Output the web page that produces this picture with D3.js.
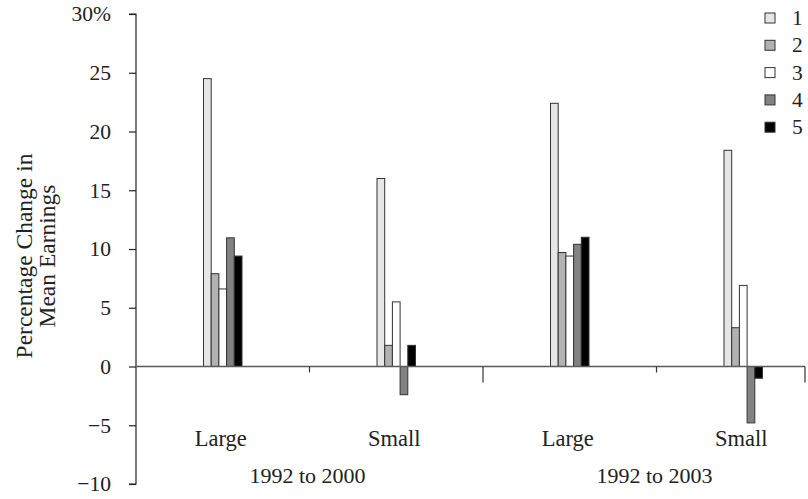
<!DOCTYPE html>
<html><head><meta charset="utf-8">
<script src="https://cdn.jsdelivr.net/npm/d3@7"></script>
<style>
html,body{margin:0;padding:0;background:#fff;}
svg{display:block;font-family:"Liberation Serif","Times New Roman",serif;}
</style></head>
<body>
<svg id="chart" width="808" height="499"></svg>
<script>
// ---- data ----
const categories = ["Large", "Small", "Large", "Small"];
const periods = ["1992 to 2000", "1992 to 2003"];
const seriesNames = ["1", "2", "3", "4", "5"];
const series1 = [24.5, 16.0, 22.4, 18.4];
const series2 = [7.9, 1.8, 9.7, 3.3];
const series3 = [6.6, 5.5, 9.4, 6.9];
const series4 = [10.95, -2.4, 10.4, -4.8];
const series5 = [9.4, 1.8, 11.0, -1.0];
const yTicks = [-10, -5, 0, 5, 10, 15, 20, 25, 30];
const yTickLabels = ["\u221210", "\u22125", "0", "5", "10", "15", "20", "25", "30%"];
const colors = ["#e6e6e6", "#b2b2b2", "#ffffff", "#828282", "#000000"];

const allSeries = [series1, series2, series3, series4, series5];

const svg = d3.select("#chart");
const x0 = 136, yTop = 14, yBot = 484, xAxisEnd = 805;

const y = d3.scaleLinear().domain([-10, 30]).range([yBot, yTop]);
const xb = d3.scaleBand().domain(d3.range(categories.length)).range([x0, 830]).padding(0);
const xs = d3.scaleBand().domain(d3.range(seriesNames.length)).range([-19.25, 19.25]).padding(0);

// y axis
const yAxis = d3.axisLeft(y).tickValues(yTicks).tickFormat((d, i) => yTickLabels[i]).tickSize(7).tickPadding(18);
const gy = svg.append("g").attr("transform", `translate(${x0},0)`).call(yAxis);
gy.select(".domain").attr("stroke", "#222").attr("stroke-width", 1.2).attr("d", `M-7,${yTop}H0V${yBot}H-7`);
gy.selectAll(".tick line").attr("stroke", "#222").attr("stroke-width", 1.2);
gy.selectAll(".tick text").attr("font-size", 21.5).attr("fill", "#222")
  .attr("font-family", '"Liberation Serif",serif').attr("dx", 0);

// bars
const bars = svg.append("g");
categories.forEach((c, ci) => {
  allSeries.forEach((s, si) => {
    const v = s[ci];
    bars.append("rect")
      .attr("x", xb(ci) + xb.bandwidth() / 2 + xs(si))
      .attr("y", y(Math.max(0, v)))
      .attr("width", xs.bandwidth())
      .attr("height", Math.abs(y(v) - y(0)))
      .attr("fill", colors[si])
      .attr("stroke", "#333")
      .attr("stroke-width", 1);
  });
});

// x axis line and ticks
const zeroY = y(0);
svg.append("line").attr("x1", x0).attr("x2", xAxisEnd).attr("y1", zeroY).attr("y2", zeroY)
  .attr("stroke", "#5a5a5a").attr("stroke-width", 1.5);
const boundaries = d3.range(1, categories.length).map(i => xb(i));
boundaries.forEach((bx, i) => {
  const major = (i % 2 === 1);
  svg.append("line").attr("x1", bx).attr("x2", bx).attr("y1", zeroY).attr("y2", zeroY + (major ? 16 : 6))
    .attr("stroke", "#333").attr("stroke-width", 1.2);
});
svg.append("line").attr("x1", xAxisEnd).attr("x2", xAxisEnd).attr("y1", zeroY).attr("y2", zeroY + 16)
  .attr("stroke", "#333").attr("stroke-width", 1.2);

// category labels
categories.forEach((c, ci) => {
  svg.append("text").attr("x", xb(ci) + xb.bandwidth() / 2 - 2).attr("y", 446)
    .attr("text-anchor", "middle").attr("font-size", 22.5).attr("fill", "#222").text(c);
});
periods.forEach((p, pi) => {
  svg.append("text").attr("x", xb(pi * 2 + 1) - 2).attr("y", 483)
    .attr("text-anchor", "middle").attr("font-size", 22).attr("fill", "#222").text(p);
});

// y axis title
const yt = svg.append("text").attr("transform", "translate(0,256) rotate(-90)")
  .attr("text-anchor", "middle").attr("font-size", 23.5).attr("fill", "#222");
yt.append("tspan").attr("x", 0).attr("y", 32).text("Percentage Change in");
yt.append("tspan").attr("x", 0).attr("y", 55).text("Mean Earnings");

// legend
const lg = svg.append("g");
seriesNames.forEach((n, i) => {
  const cy = 18 + i * 27.3;
  lg.append("rect").attr("x", 765).attr("y", cy - 5).attr("width", 10).attr("height", 10)
    .attr("fill", colors[i]).attr("stroke", "#333").attr("stroke-width", 1);
  lg.append("text").attr("x", 792).attr("y", cy + 7).attr("font-size", 21.5).attr("fill", "#222").text(n);
});
</script>
</body></html>
